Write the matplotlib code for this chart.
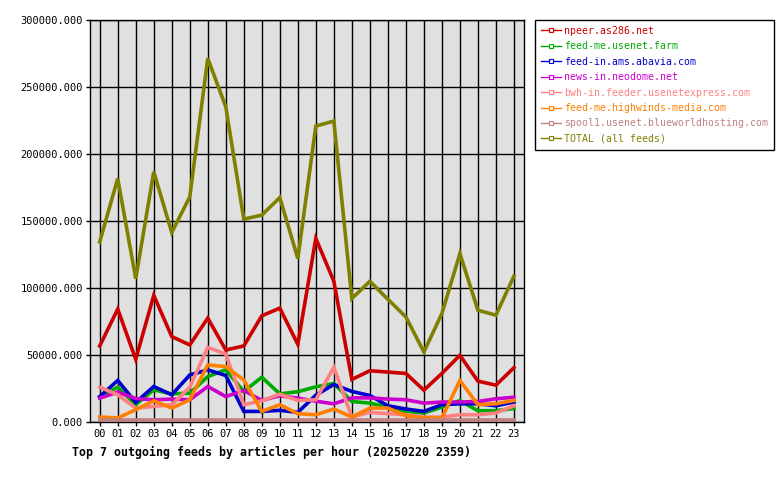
import matplotlib
matplotlib.use("Agg")
import matplotlib.pyplot as plt
from matplotlib.lines import Line2D

# horas do dia (00..23)
horas = [f"{h:02d}" for h in range(24)]

npeer = [56750, 84250, 46750, 94500, 63750, 57500, 77500, 53750, 56750, 79250, 85000, 58000,
         137000, 105000, 31750, 38250, 37250, 36250, 23750, 36250, 49750, 30500, 27500, 40500]
feed_me_farm = [18700, 26000, 13000, 24000, 21000, 21500, 33900, 39000, 22800, 33400, 21000, 22600,
                26250, 28750, 15300, 14100, 11100, 7900, 6700, 11100, 16000, 8400, 8400, 10100]
feed_in_abavia = [19000, 31000, 14600, 26500, 20300, 35100, 38900, 34700, 7900, 7900, 8700, 7200,
                  20000, 28000, 22800, 19800, 12100, 9700, 7900, 12900, 13600, 13600, 12100, 14900]
news_in_neodome = [17800, 22300, 17500, 16600, 17100, 16600, 26500, 19000, 23500, 16100, 19600, 17800,
                   15500, 13600, 18000, 18000, 17100, 16600, 14100, 14900, 14900, 15300, 17300, 18500]
bwh_in = [26000, 20300, 10400, 11600, 12900, 26000, 55700, 50700, 12900, 15800, 20800, 16100,
          16600, 40800, 3700, 7200, 6200, 5400, 3700, 3700, 5400, 5400, 6700, 12100]
feed_me_highwinds = [3700, 3000, 9200, 15800, 10400, 16600, 42600, 41300, 31400, 7900, 12900, 6200,
                     5400, 9700, 3700, 10400, 10400, 4700, 3000, 3000, 31000, 12900, 13600, 16100]
spool1 = [1500] * 24
total = [134400, 181700, 107000, 186700, 141400, 168000, 271400, 235300, 151400, 154400, 167500, 122000,
         220800, 224600, 92100, 105000, 91600, 78400, 52300, 80900, 125700, 83400, 79700, 108800]

feeds = ["npeer.as286.net", "feed-me.usenet.farm", "feed-in.ams.abavia.com", "news-in.neodome.net",
         "bwh-in.feeder.usenetexpress.com", "feed-me.highwinds-media.com",
         "spool1.usenet.blueworldhosting.com", "TOTAL (all feeds)"]
series = [npeer, feed_me_farm, feed_in_abavia, news_in_neodome, bwh_in, feed_me_highwinds, spool1, total]
cores = ["#cc0000", "#00aa00", "#0000cc", "#cc00cc", "#ff8080", "#ff8000", "#c08080", "#808000"]

titulo = "Top 7 outgoing feeds by articles per hour (20250220 2359)"

fig = plt.figure(figsize=(7.8, 4.8), dpi=100)
ax = fig.add_axes([90 / 780, 1 - 422 / 480, 434 / 780, 402 / 480])
ax.set_facecolor("#e0e0e0")

x = list(range(24))
for valores, cor in zip(series, cores):
    ax.plot(x, valores, color=cor, linewidth=2.6, solid_joinstyle="miter", zorder=3)

ax.set_xlim(-0.54, 23.56)
ax.set_ylim(0, 300000)
ax.set_xticks(x)
ax.set_xticklabels(horas, family="DejaVu Sans Mono", fontsize=7.5)
ax.set_yticks(range(0, 300001, 50000))
ax.set_yticklabels([f"{v:.3f}" for v in range(0, 300001, 50000)], family="DejaVu Sans Mono", fontsize=7.5)
ax.grid(True, color="black", linewidth=1.0, zorder=1)
ax.set_axisbelow(True)
ax.tick_params(length=3, width=1, color="black", pad=2)
for sp in ax.spines.values():
    sp.set_color("black")
    sp.set_linewidth(1.0)

# legenda manual, fora do gráfico
handles = [Line2D([0], [0], color=c, linewidth=1, marker="s", markersize=3,
                  markerfacecolor="white", markeredgecolor=c, markeredgewidth=0.8) for c in cores]
leg = fig.legend(handles, feeds, loc="upper left", bbox_to_anchor=(535 / 780, 1 - 20 / 480),
                 frameon=True, fancybox=False, edgecolor="black", framealpha=1,
                 prop={"family": "DejaVu Sans Mono", "size": 7.1}, handlelength=2.0,
                 handletextpad=0.35, labelspacing=0.55, borderpad=0.6, borderaxespad=0)
leg.get_frame().set_linewidth(1.0)
for txt, c in zip(leg.get_texts(), cores):
    txt.set_color(c)

fig.text(72 / 780, 1 - 452 / 480, titulo, family="DejaVu Sans Mono", fontweight="bold",
         fontsize=8.37, va="center", ha="left")

fig.savefig("out.png", dpi=100)
